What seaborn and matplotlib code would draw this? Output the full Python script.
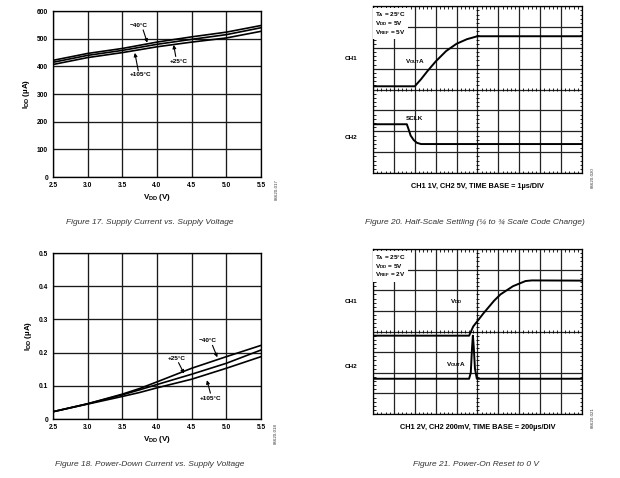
import matplotlib
matplotlib.use("Agg")
import matplotlib.pyplot as plt
import numpy as np
import pandas as pd
import seaborn as sns

# Figure 17: supply current vs supply voltage (uA)
vdd = [2.5, 3.0, 3.5, 4.0, 4.5, 5.0, 5.5]
idd_m40 = [422, 447, 465, 488, 507, 524, 548]
idd_p25 = [415, 440, 458, 480, 498, 515, 540]
idd_p105 = [407, 432, 450, 471, 488, 503, 527]

# Figure 18: power-down current vs supply voltage (uA)
vdd_pd = [2.5, 3.0, 3.5, 3.75, 4.0, 4.5, 5.0, 5.5]
ipd_m40 = [0.022, 0.046, 0.075, 0.092, 0.112, 0.153, 0.188, 0.222]
ipd_p25 = [0.022, 0.046, 0.073, 0.088, 0.104, 0.135, 0.168, 0.208]
ipd_p105 = [0.022, 0.045, 0.068, 0.080, 0.094, 0.120, 0.153, 0.188]

# Figure 20: half-scale settling, scope divisions
t_vout20 = [0, 2.0, 2.3, 2.6, 3.0, 3.5, 4.0, 4.5, 5.0, 10]
v_vout20 = [4.16, 4.16, 4.5, 4.88, 5.35, 5.85, 6.2, 6.42, 6.56, 6.56]
t_sclk = [0, 1.62, 1.72, 1.8, 1.95, 2.1, 2.3, 10]
v_sclk = [2.34, 2.34, 2.05, 1.8, 1.58, 1.45, 1.39, 1.39]

# Figure 21: power-on reset, scope divisions
t_vdd21 = [0, 4.6, 4.8, 5.3, 5.8, 6.1, 6.7, 7.3, 7.6, 10]
v_vdd21 = [3.8, 3.8, 4.25, 4.9, 5.5, 5.8, 6.2, 6.45, 6.48, 6.47]
t_vout21 = [0, 4.6, 4.68, 4.74, 4.78, 4.82, 4.88, 4.97, 10]
v_vout21 = [1.71, 1.71, 2.0, 3.2, 3.8, 3.3, 2.2, 1.71, 1.71]

temps = ["\u221240\u00b0C", "+25\u00b0C", "+105\u00b0C"]

sns.set_theme(style="white")
plt.rcParams["font.family"] = ["Liberation Sans", "DejaVu Sans"]
plt.rcParams["mathtext.fontset"] = "custom"
plt.rcParams["mathtext.rm"] = "Liberation Sans:bold"
plt.rcParams["mathtext.default"] = "rm"

BOLD = dict(fontweight="bold", color="black")
CAPTION = dict(style="italic", fontsize=6.0, color="#333333", ha="center")


def long_df(x, series):
    frames = [pd.DataFrame({"x": x, "y": vals, "temp": name}) for name, vals in zip(temps, series)]
    return pd.concat(frames, ignore_index=True)


def curve_panel(ax, x, series, ylim, yticks, yticklabels, ylabel, notes):
    df = long_df(x, series)
    sns.lineplot(data=df, x="x", y="y", hue="temp", palette=["black"] * 3,
                 estimator=None, legend=False, linewidth=1.2, ax=ax)
    ax.set_xlim(2.5, 5.5)
    ax.set_ylim(*ylim)
    ax.set_xticks(np.arange(2.5, 5.51, 0.5))
    ax.set_yticks(yticks)
    ax.set_xticklabels([f"{v:.1f}" for v in np.arange(2.5, 5.51, 0.5)], fontsize=4.8, **BOLD)
    ax.set_yticklabels(yticklabels, fontsize=4.8, **BOLD)
    ax.grid(True, color="#1a1a1a", linewidth=0.95)
    ax.tick_params(axis="x", length=0, pad=3.5)
    ax.tick_params(axis="y", length=0, pad=3.5)
    for s in ax.spines.values():
        s.set_color("black")
        s.set_linewidth(0.95)
    ax.set_xlabel("V$_{DD}$ (V)", fontsize=5.8, labelpad=2.5, **BOLD)
    ax.set_ylabel(ylabel, fontsize=5.8, labelpad=3.5, **BOLD)
    for label, (tx, ty), (ax0, ay0), (ax1, ay1) in notes:
        ax.text(tx, ty, label, fontsize=4.6, ha="center", va="center", **BOLD)
        ax.annotate("", xy=(ax1, ay1), xytext=(ax0, ay0),
                    arrowprops=dict(arrowstyle="-|>", color="black", lw=0.8,
                                    mutation_scale=5, shrinkA=0, shrinkB=0))


def scope_panel(ax, traces, box, labels, xlabel, ch_y):
    for t, v in traces:
        sns.lineplot(x=t, y=v, color="black", linewidth=1.4, estimator=None, ax=ax)
    ax.set_xlim(0, 10)
    ax.set_ylim(0, 8)
    ax.set_xticks(range(11))
    ax.set_yticks(range(9))
    ax.set_xticklabels([])
    ax.set_yticklabels([])
    ax.grid(True, color="#222222", linewidth=0.9)
    ax.set_axisbelow(True)
    ax.tick_params(which="major", length=0)
    ax.set_xticks(np.arange(0, 10.01, 0.2), minor=True)
    ax.set_yticks(np.arange(0, 8.01, 0.2), minor=True)
    ax.tick_params(which="minor", direction="in", length=1.8, width=0.6,
                   top=True, right=True, bottom=True, left=True, color="black")
    for s in ax.spines.values():
        s.set_color("black")
        s.set_linewidth(0.9)
    # centre graticule ticks
    ax.vlines(np.arange(0, 10.01, 0.2), 3.92, 4.08, color="black", lw=0.6, zorder=1)
    ax.hlines(np.arange(0, 8.01, 0.2), 4.92, 5.08, color="black", lw=0.6, zorder=1)
    ax.text(0.12, 7.82, box, fontsize=4.6, va="top", ha="left", linespacing=1.0,
            bbox=dict(facecolor="white", edgecolor="none", pad=1.6), zorder=3, **BOLD)
    for label, (tx, ty) in labels:
        ax.text(tx, ty, label, fontsize=4.6, ha="center", va="center", zorder=3, **BOLD)
    for name, y in zip(["CH1", "CH2"], ch_y):
        ax.text(-0.75, y, name, fontsize=4.6, ha="right", va="center", clip_on=False, **BOLD)
    ax.set_xlabel(xlabel, fontsize=5.3, labelpad=4, **BOLD)


fig = plt.figure(figsize=(6.2, 4.78), dpi=100)
fig.patch.set_facecolor("white")

ax1 = fig.add_axes([0.0855, 0.6297, 0.3355, 0.347])
curve_panel(ax1, vdd, [idd_m40, idd_p25, idd_p105], (0, 600), list(range(0, 601, 100)),
            [str(v) for v in range(0, 601, 100)], "I$_{DD}$ (\u00b5A)",
            [(temps[0], (3.73, 549), (3.80, 532), (3.86, 486)),
             (temps[1], (4.32, 419), (4.27, 436), (4.24, 478)),
             (temps[2], (3.76, 369), (3.73, 384), (3.68, 449))])

ax3 = fig.add_axes([0.0855, 0.1234, 0.3355, 0.347])
curve_panel(ax3, vdd_pd, [ipd_m40, ipd_p25, ipd_p105], (0, 0.5), [0, 0.1, 0.2, 0.3, 0.4, 0.5],
            ["0", "0.1", "0.2", "0.3", "0.4", "0.5"], "I$_{DD}$ (\u00b5A)",
            [(temps[0], (4.73, 0.236), (4.80, 0.222), (4.87, 0.186)),
             (temps[1], (4.29, 0.183), (4.31, 0.170), (4.39, 0.137)),
             (temps[2], (4.77, 0.062), (4.77, 0.078), (4.72, 0.117))])

ax2 = fig.add_axes([0.6016, 0.638, 0.337, 0.349])
scope_panel(ax2, [(t_vout20, v_vout20), (t_sclk, v_sclk)],
            "T$_A$ = 25\u00b0C\nV$_{DD}$ = 5V\nV$_{REF}$ = 5V",
            [("V$_{OUT}$A", (2.0, 5.36)), ("SCLK", (2.0, 2.63))],
            "CH1 1V, CH2 5V, TIME BASE = 1\u00b5s/DIV", (5.5, 1.72))

ax4 = fig.add_axes([0.6016, 0.1339, 0.337, 0.345])
scope_panel(ax4, [(t_vdd21, v_vdd21), (t_vout21, v_vout21)],
            "T$_A$ = 25\u00b0C\nV$_{DD}$ = 5V\nV$_{REF}$ = 2V",
            [("V$_{DD}$", (4.0, 5.47)), ("V$_{OUT}$A", (4.0, 2.4))],
            "CH1 2V, CH2 200mV, TIME BASE = 200\u00b5s/DIV", (5.45, 2.31))

# captions
fig.text(150 / 620, 1 - 223 / 478, "Figure 17. Supply Current vs. Supply Voltage", va="center", **CAPTION)
fig.text(475 / 620, 1 - 223 / 478, "Figure 20. Half-Scale Settling (\u00bc to \u00be Scale Code Change)", va="center", **CAPTION)
fig.text(150 / 620, 1 - 464 / 478, "Figure 18. Power-Down Current vs. Supply Voltage", va="center", **CAPTION)
fig.text(476 / 620, 1 - 464 / 478, "Figure 21. Power-On Reset to 0 V", va="center", **CAPTION)

# side figure codes
for (px, py), code in zip([(277, 190), (593, 178), (276, 434), (593, 418)],
                          ["06620-017", "06620-020", "06620-018", "06620-021"]):
    fig.text(px / 620, 1 - py / 478, code, rotation=90, fontsize=3.2, color="#333333",
             ha="center", va="center")

fig.savefig("out.png", dpi=100, facecolor="white")
